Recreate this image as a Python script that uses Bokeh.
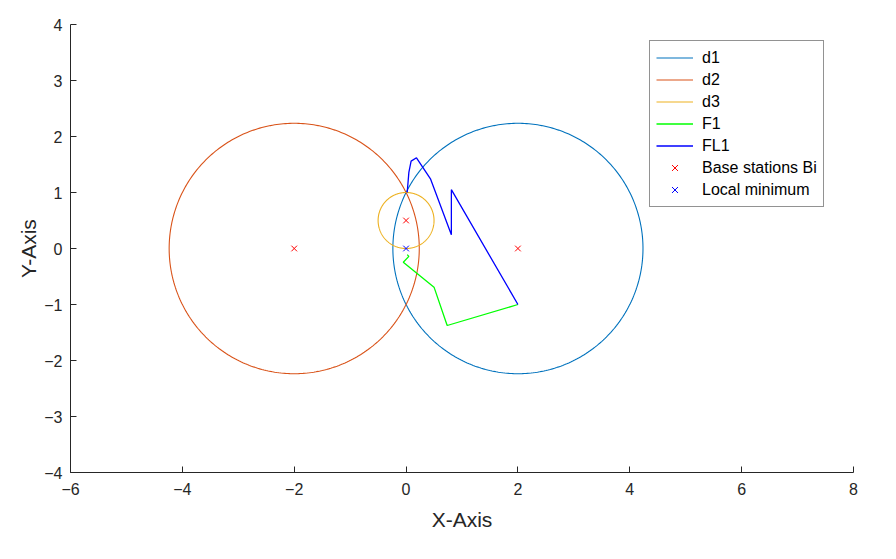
import numpy as np
from bokeh.plotting import figure
from bokeh.models import Legend, LegendItem, FixedTicker, Range1d
from bokeh.embed import file_html
from bokeh.resources import INLINE

# ---- data ----
circle_names = ["d1", "d2", "d3"]
circle_cx = [2.0, -2.0, 0.0]
circle_cy = [0.0, 0.0, 0.5]
circle_r = [2.236, 2.236, 0.5]
circle_colors = ["#0072BD", "#D95319", "#EDB120"]

f1_x = [2.0, 0.735, 0.50, -0.05, 0.05, 0.02]
f1_y = [-1.0, -1.375, -0.69, -0.245, -0.14, -0.11]

fl1_x = [2.0, 0.81, 0.81, 0.436, 0.186, 0.09, 0.05, 0.02]
fl1_y = [-1.0, 1.05, 0.245, 1.245, 1.62, 1.56, 1.36, 1.0]

base_x = [-2.0, 2.0, 0.0]
base_y = [0.0, 0.0, 0.5]

locmin_x = [0.0]
locmin_y = [0.0]

x_ticks = [-6, -4, -2, 0, 2, 4, 6, 8]
y_ticks = [-4, -3, -2, -1, 0, 1, 2, 3, 4]

FONT = "Liberation Sans"
TXT = "#262626"

p = figure(frame_width=783, frame_height=448, output_backend="svg",
           toolbar_location=None, x_range=Range1d(-6, 8), y_range=Range1d(-4, 4),
           min_border_left=70, min_border_right=27, min_border_top=24,
           min_border_bottom=71)
p.outline_line_color = None
p.background_fill_color = "white"
p.border_fill_color = "white"
p.xgrid.visible = False
p.ygrid.visible = False

for ax in (p.xaxis[0], p.yaxis[0]):
    ax.axis_line_color = TXT
    ax.major_tick_line_color = TXT
    ax.minor_tick_line_color = None
    ax.major_tick_in = 6
    ax.major_tick_out = 0
    ax.major_label_text_font = FONT
    ax.major_label_text_font_size = "16px"
    ax.major_label_text_color = TXT
    ax.axis_label_text_font = FONT
    ax.axis_label_text_font_size = "21px"
    ax.axis_label_text_font_style = "normal"
    ax.axis_label_text_color = TXT

p.xaxis.ticker = FixedTicker(ticks=x_ticks)
p.yaxis.ticker = FixedTicker(ticks=y_ticks)
p.xaxis.axis_label = "X-Axis"
p.yaxis.axis_label = "Y-Axis"
p.xaxis.major_label_standoff = 10
p.yaxis.major_label_standoff = 8
p.xaxis.axis_label_standoff = 10
p.yaxis.axis_label_standoff = 1

theta = np.linspace(0, 2 * np.pi, 361)
items = []
for name, cx, cy, r, c in zip(circle_names, circle_cx, circle_cy, circle_r, circle_colors):
    rr = p.line(cx + r * np.cos(theta), cy + r * np.sin(theta), line_color=c, line_width=1.1)
    items.append(LegendItem(label=name, renderers=[rr]))

rf1 = p.line(f1_x, f1_y, line_color="#00FF00", line_width=1.3)
items.append(LegendItem(label="F1", renderers=[rf1]))
rfl1 = p.line(fl1_x, fl1_y, line_color="#0000FF", line_width=1.3)
items.append(LegendItem(label="FL1", renderers=[rfl1]))

rb = p.scatter(base_x, base_y, marker="x", size=8, line_color="#FF0000", line_width=1)
items.append(LegendItem(label="Base stations Bi", renderers=[rb]))
rl = p.scatter(locmin_x, locmin_y, marker="x", size=8, line_color="#0000FF", line_width=1)
items.append(LegendItem(label="Local minimum", renderers=[rl]))

legend = Legend(items=items, location=(579, 265))
legend.label_text_font = FONT
legend.label_text_font_size = "16px"
legend.label_text_color = "black"
legend.border_line_color = TXT
legend.border_line_width = 1
legend.background_fill_color = "white"
legend.background_fill_alpha = 1
legend.padding = 6
legend.spacing = 1
legend.margin = 0
legend.label_height = 21
legend.glyph_height = 21
legend.glyph_width = 37
legend.label_standoff = 9
p.add_layout(legend, "center")

open("out.html", "w").write(file_html(p, INLINE))
